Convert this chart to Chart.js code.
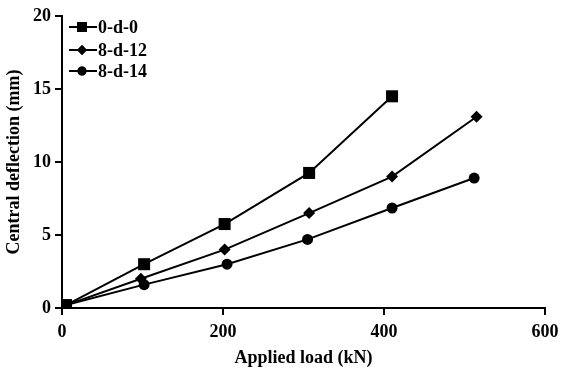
<!DOCTYPE html>
<html><head><meta charset="utf-8">
<script src="https://cdn.jsdelivr.net/npm/chart.js@4/dist/chart.umd.min.js"></script>
<style>html,body{margin:0;padding:0;background:#fff}#w{width:563px;height:369px}</style>
</head><body><div id="w"><canvas id="c"></canvas></div>
<script>
const seriesNames = ["0-d-0", "8-d-12", "8-d-14"];
const loads_0d0 = [5, 102, 202, 307, 410];
const defl_0d0 = [0.2, 3.0, 5.75, 9.25, 14.5];
const loads_8d12 = [5, 98, 202, 307, 410, 515];
const defl_8d12 = [0.2, 2.0, 4.0, 6.5, 9.0, 13.1];
const loads_8d14 = [5, 102, 205, 305, 410, 512];
const defl_8d14 = [0.2, 1.6, 3.0, 4.7, 6.85, 8.9];
const xTicks = [0, 200, 400, 600];
const yTicks = [0, 5, 10, 15, 20];

const pts = (xs, ys) => xs.map((x, i) => ({x, y: ys[i]}));
const styles = [
  {pointStyle: 'rect', pointRadius: 8.5, legendRadius: 7},
  {pointStyle: 'rectRot', pointRadius: 6, legendRadius: 5},
  {pointStyle: 'circle', pointRadius: 5.5, legendRadius: 4.5}
];
const dataSets = [pts(loads_0d0, defl_0d0), pts(loads_8d12, defl_8d12), pts(loads_8d14, defl_8d14)];
const FONT = '"Liberation Serif", "Times New Roman", serif';

const legendPlugin = {
  id: 'customLegend',
  afterDraw(chart) {
    const ctx = chart.ctx;
    const rows = [27, 50, 71];
    ctx.save();
    chart.data.datasets.forEach((ds, i) => {
      const y = rows[i];
      ctx.strokeStyle = '#000';
      ctx.lineWidth = 2;
      ctx.beginPath(); ctx.moveTo(69, y); ctx.lineTo(97, y); ctx.stroke();
      ctx.fillStyle = '#000';
      Chart.helpers.drawPoint(ctx, {pointStyle: ds.pointStyle, radius: styles[i].legendRadius, borderWidth: 0}, 82, y);
      ctx.fill();
      ctx.font = 'bold 18px ' + FONT;
      ctx.textBaseline = 'middle';
      ctx.textAlign = 'left';
      ctx.fillText(ds.label, 98, y + 1);
    });
    ctx.restore();
  }
};

new Chart(document.getElementById('c'), {
  type: 'line',
  data: {
    datasets: dataSets.map((d, i) => ({
      label: seriesNames[i],
      data: d,
      borderColor: '#000',
      backgroundColor: '#000',
      borderWidth: 2,
      pointBorderWidth: 0,
      pointBackgroundColor: '#000',
      pointStyle: styles[i].pointStyle,
      pointRadius: styles[i].pointRadius,
      fill: false,
      tension: 0
    }))
  },
  options: {
    responsive: true,
    maintainAspectRatio: false,
    animation: false,
    layout: {padding: {top: 16, right: 18, left: 0, bottom: 0}},
    plugins: {legend: {display: false}, tooltip: {enabled: false}},
    scales: {
      x: {
        type: 'linear', min: 0, max: 600,
        afterBuildTicks: s => { s.ticks = xTicks.map(v => ({value: v})); },
        afterFit: s => { s.height = 61; s.paddingLeft = 0; s.paddingRight = 0; },
        border: {display: true, color: '#000', width: 2},
        grid: {display: true, drawOnChartArea: false, drawTicks: true, tickLength: 7, color: '#000', lineWidth: 2},
        ticks: {color: '#000', font: {family: FONT, size: 18, weight: 'bold'}, padding: 7, maxRotation: 0},
        title: {display: true, text: 'Applied load (kN)', color: '#000', font: {family: FONT, size: 18, weight: 'bold'}, padding: {top: 2, bottom: 0}}
      },
      y: {
        type: 'linear', min: 0, max: 20,
        afterBuildTicks: s => { s.ticks = yTicks.map(v => ({value: v})); },
        afterFit: s => { s.width = 62; s.paddingTop = 0; s.paddingBottom = 0; },
        border: {display: true, color: '#000', width: 2},
        grid: {display: true, drawOnChartArea: false, drawTicks: true, tickLength: 7, color: '#000', lineWidth: 2},
        ticks: {color: '#000', font: {family: FONT, size: 18, weight: 'bold'}, padding: 4},
        title: {display: true, text: 'Central deflection (mm)', color: '#000', font: {family: FONT, size: 18, weight: 'bold'}, padding: {top: 4, bottom: 2}}
      }
    }
  },
  plugins: [legendPlugin]
});
</script>
</body></html>
